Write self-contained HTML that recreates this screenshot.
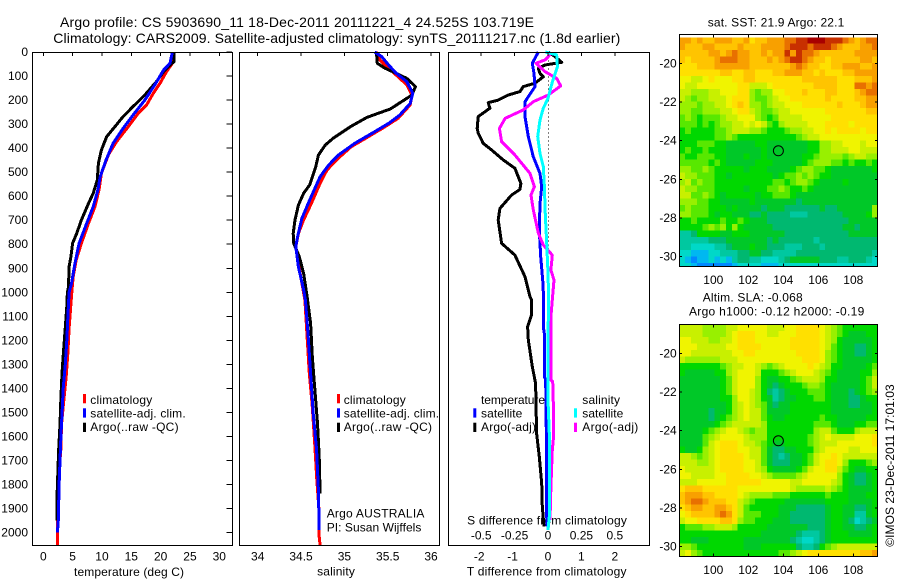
<!DOCTYPE html>
<html lang="en">
<head>
<meta charset="utf-8">
<title>Argo profile 5903690_11</title>
<style>
html,body{margin:0;padding:0;background:#fff;}
svg{display:block;}
text{font-family:"Liberation Sans",sans-serif;font-size:12px;fill:#000;dominant-baseline:central;}
text.big{font-size:14px;}
</style>
</head>
<body>
<svg id="chart" xmlns="http://www.w3.org/2000/svg" width="900" height="580" viewBox="0 0 900 580">
<rect x="0" y="0" width="900" height="580" fill="#fff"/>
<text class="big" x="60" y="22" textLength="474" lengthAdjust="spacing">Argo profile: CS 5903690_11 18-Dec-2011 20111221_4 24.525S 103.719E</text>
<text class="big" x="53.3" y="38" textLength="567" lengthAdjust="spacing">Climatology: CARS2009. Satellite-adjusted climatology: synTS_20111217.nc (1.8d earlier)</text>
<text x="707.7" y="22.3" textLength="136.6" lengthAdjust="spacing">sat. SST: 21.9 Argo: 22.1</text>
<text x="702.7" y="297.7" textLength="100" lengthAdjust="spacing">Altim. SLA: -0.068</text>
<text x="689" y="311.7" textLength="175.3" lengthAdjust="spacing">Argo h1000: -0.12 h2000: -0.19</text>
<text x="129" y="572" text-anchor="middle" textLength="110" lengthAdjust="spacing">temperature (deg C)</text>
<text x="336" y="571.7" text-anchor="middle" textLength="37.7" lengthAdjust="spacing">salinity</text>
<text x="546.7" y="571.7" text-anchor="middle" textLength="159.7" lengthAdjust="spacing">T difference from climatology</text>
<text x="547" y="520.7" text-anchor="middle" textLength="159.7" lengthAdjust="spacing">S difference from climatology</text>

<g>
<rect x="83" y="394" width="3" height="9.3" fill="#ff0000"/>
<rect x="83" y="408.3" width="3" height="9.3" fill="#0000ff"/>
<rect x="83" y="422.7" width="3" height="9.3" fill="#000"/>
<text x="90.3" y="400" textLength="62" lengthAdjust="spacing">climatology</text>
<text x="90.3" y="413.3" textLength="95.4" lengthAdjust="spacing">satellite-adj. clim.</text>
<text x="90.3" y="427" textLength="88.3" lengthAdjust="spacing">Argo(..raw -QC)</text>
</g>
<g>
<rect x="337" y="394" width="3" height="9.3" fill="#ff0000"/>
<rect x="337" y="408.3" width="3" height="9.3" fill="#0000ff"/>
<rect x="337" y="422.7" width="3" height="9.3" fill="#000"/>
<text x="343.7" y="400" textLength="62" lengthAdjust="spacing">climatology</text>
<text x="343.7" y="413.3" textLength="95.4" lengthAdjust="spacing">satellite-adj. clim.</text>
<text x="343.7" y="427" textLength="88.3" lengthAdjust="spacing">Argo(..raw -QC)</text>
</g>
<text x="326.7" y="513.3" textLength="97.7" lengthAdjust="spacing">Argo AUSTRALIA</text>
<text x="326.7" y="527.7" textLength="94.7" lengthAdjust="spacing">PI: Susan Wijffels</text>
<g>
<text x="481" y="400" textLength="64" lengthAdjust="spacing">temperature</text>
<text x="481" y="413.3" textLength="41.3" lengthAdjust="spacing">satellite</text>
<text x="481" y="427" textLength="55" lengthAdjust="spacing">Argo(-adj)</text>
<text x="582.3" y="400" textLength="37.7" lengthAdjust="spacing">salinity</text>
<text x="582.3" y="413.3" textLength="41" lengthAdjust="spacing">satellite</text>
<text x="582.3" y="427" textLength="56" lengthAdjust="spacing">Argo(-adj)</text>
<rect x="473.3" y="408.3" width="3" height="9.3" fill="#0000ff"/>
<rect x="473.3" y="422.7" width="3" height="9.3" fill="#000"/>
<rect x="574" y="408.3" width="3" height="9.3" fill="#00ffff"/>
<rect x="574" y="422.7" width="3" height="9.3" fill="#ff00ff"/>
</g>
<text transform="translate(890,465.5) rotate(-90)" text-anchor="middle" textLength="162.4" lengthAdjust="spacing">©IMOS 23-Dec-2011 17:01:03</text>
<defs>
<clipPath id="clip-sst"><rect x="679.3" y="34.3" width="198" height="232.4"/></clipPath>
<clipPath id="clip-sla"><rect x="679.3" y="324.3" width="198" height="232.4"/></clipPath>
</defs>
</svg>
<script>
// ---------- profile data (depth in dbar, values in physical units) ----------
const depthTickLabels = [0,100,200,300,400,500,600,700,800,900,1000,1100,1200,1300,1400,1500,1600,1700,1800,1900,2000];
const tempTickLabels = [0,5,10,15,20,25,30];
const salTickLabels = [34,34.5,35,35.5,36];
const tDiffTickLabels = [-2,-1,0,1,2];
const sDiffTickLabels = [-0.5,-0.25,0,0.25,0.5];
const lonTickLabels = [100,102,104,106,108];
const latTickLabels = [-20,-22,-24,-26,-28,-30];

const tempClimDepth = [0,47,82,130,172,220,255,310,373,428,505,574,644,713,796,865,935,990,1050,1150,1250,1350,1450,1550,1650,1750,1850,1950,2053];
const tempClimValue = [22.2,22.0,21.0,19.9,18.75,17.6,16.2,14.5,12.5,11.1,9.9,9.5,8.8,7.7,6.5,5.6,5.1,4.9,4.7,4.4,4.2,3.9,3.5,3.1,3.0,2.7,2.6,2.4,2.4];
const tempSatDepth = [0,47,75,137,200,262,318,380,449,519,574,644,713,796,879,963,1000,1100,1200,1300,1400,1500,1600,1700,1800,1950,2000];
const tempSatValue = [22.0,21.6,20.5,19.0,17.3,15.3,13.6,11.9,10.7,9.7,9.3,8.5,7.4,6.1,5.4,4.8,4.4,4.2,4.0,3.75,3.4,3.2,3.0,2.85,2.7,2.55,2.4];
const tempArgoDepth = [0,40,54,82,123,179,227,269,311,352,408,463,533,588,630,699,755,796,852,893,977,1000,1060,1130,1230,1330,1440,1550,1660,1770,1880,1950];
const tempArgoValue = [22.3,22.3,21.6,20.5,19.3,17.3,15.3,13.6,12.2,10.8,9.9,9.4,9.2,8.5,7.7,6.5,5.7,5.0,4.7,4.4,4.3,4.1,4.0,3.8,3.5,3.2,3.0,2.85,2.6,2.45,2.3,2.3];

const salClimDepth = [0,33,61,103,137,179,220,276,311,352,394,442,491,547,630,699,755,810,880,963,1032,1337,1476,1642,1767,1920,2017,2053];
const salClimValue = [35.37,35.41,35.49,35.62,35.72,35.78,35.76,35.62,35.47,35.28,35.08,34.93,34.80,34.72,34.62,34.53,34.47,34.44,34.47,34.51,34.545,34.595,34.63,34.66,34.68,34.71,34.71,34.72];
const salSatDepth = [0,19,54,89,123,172,214,262,297,338,380,429,470,519,616,692,768,810,894,990,1032,1171,1337,1504,1656,1823,1989];
const salSatValue = [35.35,35.43,35.51,35.60,35.72,35.79,35.76,35.64,35.51,35.32,35.12,34.93,34.82,34.72,34.60,34.51,34.46,34.44,34.47,34.53,34.55,34.58,34.61,34.64,34.68,34.70,34.71];
const salArgoDepth = [0,47,68,89,110,144,179,207,237,255,272,311,359,387,429,477,553,588,637,699,755,796,852,921,1018,1129,1268,1407,1545,1684,1837];
const salArgoValue = [35.37,35.38,35.47,35.60,35.72,35.82,35.78,35.66,35.53,35.39,35.26,35.07,34.87,34.78,34.70,34.67,34.60,34.53,34.47,34.43,34.41,34.415,34.48,34.53,34.57,34.61,34.63,34.66,34.69,34.71,34.72];

const tDiffSatDepth = [0,47,89,144,207,269,352,436,505,560,630,741,852,949,1032,1143,1171,1351,1365,1545,1587,1934,1975];
const tDiffSatValue = [-0.29,-0.47,-0.42,-0.39,-0.69,-0.69,-0.59,-0.44,-0.24,-0.19,-0.24,-0.26,-0.22,-0.16,-0.13,-0.14,-0.11,-0.11,-0.07,-0.06,-0.04,-0.04,-0.02];
const tDiffArgoDepth = [0,19,43,54,68,89,103,130,144,165,179,200,211,234,269,318,338,380,408,449,484,547,572,595,651,699,796,845,935,1018,1032,1094,1143,1198,1309,1379,1587,1684,1795,1892,1975];
const tDiffArgoValue = [0.01,0.21,0.41,-0.09,-0.29,-0.24,-0.14,-0.39,-0.74,-0.84,-1.19,-1.49,-1.79,-1.74,-2.09,-2.12,-2.09,-1.94,-1.69,-1.34,-0.99,-0.81,-0.84,-1.09,-1.44,-1.49,-1.39,-0.99,-0.69,-0.54,-0.49,-0.49,-0.61,-0.59,-0.47,-0.37,-0.34,-0.26,-0.19,-0.17,-0.12];
const sDiffSatDepth = [0,12,61,130,193,234,283,352,422,477,560,657,796,921,1032,1171,1448,1587,1920,1989];
const sDiffSatValue = [-0.02,0.065,0.07,0.03,0,-0.035,-0.06,-0.077,-0.06,-0.035,-0.027,-0.022,-0.01,0,0.005,0,0,0.01,0.012,0];
const sDiffArgoDepth = [8,33,47,82,110,141,179,207,241,276,318,373,429,505,560,595,657,755,803,845,907,949,1032,1101,1365,1372,1462,1601,1656,1809,1948];
const sDiffArgoValue = [0.022,-0.022,-0.09,-0.022,0.065,0.095,0.002,-0.11,-0.185,-0.32,-0.364,-0.347,-0.247,-0.135,-0.102,-0.127,-0.11,-0.072,-0.035,0.032,0.022,0.045,0.032,0.022,0.022,0.035,0.04,0.042,0.032,0.022,0.015];

// ---------- map grids: colour-level values read per 1/3-degree cell ----------
const sstGrid = [
[13,13,12,13,12,12,13,13,13,12,12,13,11,12,12,13,13, 13,14,14,15,15,16,16,16,15,15,15,14,13,12,13,14,14],
[13,12,12,12,13,13,12,12,12,12,13,12,12,12,13,13,13, 13,14,15,15,15,14,15,15,15,14,13,12,12,12,13,13,14],
[12,12,12,12,12,13,13,12,13,14,13,13,12,12,13,12,13, 13,15,13,15,14,14,13,12,12,12,12,12,12,13,13,13,13],
[12,11,12,12,12,12,13,14,14,14,13,13,12,12,12,13,12, 13,14,15,15,14,13,12,12,11,12,12,12,12,12,13,13,12],
[11,11,11,12,12,12,13,13,13,13,13,13,12,12,12,12,12, 12,12,13,14,13,12,12,11,11,12,12,13,13,13,12,12,13],
[11,11,11,11,11,11,11,12,12,11,11,12,12,11,11,11,12, 12,13,13,13,12,12,11,12,11,11,11,12,12,13,13,13,13],
[10,10,9,9,10,11,10,10,10,11,11,12,12,11,11,11,11, 11,11,11,11,12,12,12,12,12,12,11,11,11,12,12,12,13],
[10,9,9,10,10,10,10,10,10,10,11,11,9,9,9,10,11, 11,11,11,11,11,11,12,12,12,12,11,11,11,14,14,13,14],
[9,9,8,8,8,9,9,10,10,10,11,11,8,7,8,8,10, 10,11,11,11,12,11,11,11,12,12,11,11,11,12,13,14,14],
[9,8,7,8,8,9,9,9,10,11,11,11,8,7,7,8,9, 10,10,11,11,11,11,11,11,12,11,11,11,11,12,12,13,13],
[8,8,8,7,8,8,9,9,10,11,12,11,8,8,7,8,9, 9,10,10,10,11,11,11,11,11,11,12,11,11,11,12,13,13],
[8,8,7,7,8,8,8,9,9,10,11,11,9,8,7,7,8, 9,9,10,10,10,10,10,10,11,11,11,11,11,11,11,12,12],
[7,8,7,6,7,7,7,8,9,9,10,10,10,8,7,6,7, 9,9,9,9,10,10,10,10,10,11,11,11,11,11,11,11,11],
[7,7,7,6,7,6,7,8,8,9,9,10,9,10,9,7,6, 8,9,9,9,9,10,10,10,11,11,11,11,10,11,11,11,11],
[6,7,6,6,6,6,7,7,8,9,9,9,8,8,7,6,6, 6,7,8,8,9,9,10,10,11,10,11,11,11,11,10,11,11],
[6,6,6,6,6,6,7,7,8,7,6,6,6,6,6,6,6, 6,6,6,7,8,9,9,10,10,10,10,10,10,10,10,10,10],
[6,6,6,7,7,7,6,6,5,5,5,5,5,6,6,5,5, 5,5,5,5,5,6,6,8,8,9,9,10,10,10,9,10,10],
[6,7,6,6,7,6,6,6,5,5,5,5,5,5,6,5,5, 5,5,5,5,5,6,6,8,8,9,9,9,10,10,9,9,9],
[7,6,6,7,7,7,6,6,5,5,5,6,5,5,6,5,5, 5,5,5,5,6,6,7,8,8,8,8,7,8,9,9,8,8],
[7,7,7,7,7,6,7,6,5,5,5,5,5,6,6,6,5, 5,5,5,5,6,7,8,8,8,7,7,6,7,6,6,7,6],
[8,8,7,7,8,7,6,6,6,6,6,5,6,6,6,5,5, 5,5,6,7,8,8,7,7,6,5,5,5,5,5,5,5,6],
[9,8,8,7,7,7,6,6,5,6,6,6,6,6,6,6,5, 6,7,7,8,7,8,7,6,6,5,5,5,5,5,5,5,5],
[8,9,7,8,7,7,6,6,6,6,6,6,6,6,6,6,7, 7,6,7,8,8,7,6,5,5,5,5,6,5,5,5,5,5],
[9,8,8,7,7,7,6,6,6,6,6,5,6,6,6,7,7, 8,7,6,6,7,6,5,5,5,5,5,5,5,5,5,5,5],
[9,9,7,7,8,7,6,5,6,6,6,6,6,5,6,6,7, 7,7,6,5,5,5,5,5,5,5,5,5,5,5,5,5,5],
[8,8,8,7,7,6,6,5,5,5,5,5,6,5,5,5,5, 5,5,5,4,5,5,5,5,5,5,5,5,5,5,5,5,5],
[7,8,7,7,7,6,6,6,5,6,5,5,5,5,4,5,5, 5,4,4,4,4,4,4,5,4,4,5,5,5,5,5,5,8],
[8,8,7,7,7,6,5,6,6,5,5,5,4,4,5,4,4, 4,4,3,3,3,4,4,4,4,4,4,5,5,5,5,6,8],
[6,6,7,6,6,6,6,7,6,6,7,6,5,5,5,4,4, 4,4,4,4,4,4,4,4,4,4,4,4,5,5,5,5,5],
[6,6,6,6,7,8,7,8,6,8,6,5,5,5,5,5,4, 4,4,4,4,4,4,4,4,4,4,4,5,5,4,5,5,5],
[3,3,4,6,6,6,6,5,5,6,6,6,5,5,5,5,5, 5,4,4,4,4,4,4,4,4,4,4,4,5,5,5,5,5],
[3,3,3,3,3,4,4,4,5,5,5,5,5,5,5,4,5, 4,4,4,4,4,4,3,4,4,4,4,4,4,4,4,4,4],
[3,3,2,2,2,2,3,3,4,5,5,5,6,5,5,4,4, 4,3,3,3,4,4,4,3,4,4,4,4,4,4,4,4,4],
[2,2,1,1,1,2,2,3,3,3,4,4,5,5,4,4,3, 3,3,3,4,4,4,4,4,4,4,4,4,4,4,4,4,3],
[2,1,0,1,1,2,1,2,1,3,4,4,3,3,2,2,2, 3,4,5,5,5,5,5,4,4,4,3,3,4,4,4,3,2],
[2,2,1,0,0,0,0,0,0,1,2,2,2,2,1,1,1, 2,2,2,2,2,2,2,2,2,2,2,2,2,2,2,2,2]
];
const slaGrid = [
[9,9,9,9,8,8,8,8,9,9,10,10,10,10,10,9,9, 9,10,10,11,11,11,11,10,9,8,7,6,6,6,6,6,6],
[9,9,9,9,8,8,8,8,9,10,11,11,11,10,10,9,9, 10,10,10,11,11,11,11,10,9,8,7,6,5,5,5,6,6],
[10,10,9,9,9,8,8,9,9,10,11,11,11,10,10,10,10, 10,10,11,11,11,11,11,10,9,8,6,5,5,5,5,5,6],
[10,10,10,9,9,9,9,9,10,10,11,11,11,11,10,10,10, 10,10,11,11,11,11,11,10,9,7,6,5,5,4,4,5,6],
[10,10,9,9,9,9,9,9,9,10,10,11,11,10,10,10,10, 10,10,10,11,11,11,11,10,8,7,6,5,5,4,4,5,6],
[9,8,8,8,8,8,8,9,9,9,10,10,10,10,10,10,10, 10,10,10,10,11,11,11,10,8,7,6,5,5,5,5,5,6],
[6,6,6,6,6,6,6,7,8,9,9,10,10,9,8,7,8, 9,10,10,10,10,11,10,9,8,6,6,5,5,5,5,6,7],
[6,5,5,5,5,5,6,6,8,9,10,10,10,9,6,6,6, 7,8,9,10,10,10,9,8,7,6,5,5,5,5,6,6,8],
[5,5,5,5,5,5,5,6,7,9,10,10,10,8,6,5,5, 6,6,7,8,9,9,9,8,6,6,5,5,5,5,6,7,9],
[5,5,5,5,5,5,5,6,7,9,10,10,10,8,6,5,4, 5,6,6,6,7,8,8,7,6,5,5,5,5,5,6,7,9],
[5,5,5,5,5,5,5,6,7,9,10,10,9,8,6,4,3, 4,5,6,6,6,7,7,7,6,5,5,5,4,5,6,7,8],
[5,5,5,5,5,5,5,6,6,8,10,10,9,8,6,5,3, 4,5,5,6,6,6,7,7,6,5,5,5,4,4,5,6,6],
[5,5,5,5,5,5,5,5,6,8,9,10,9,8,7,5,4, 5,5,6,6,6,6,6,6,6,5,5,5,4,4,5,5,6],
[5,5,5,5,5,4,5,5,6,8,9,10,9,9,7,5,5, 5,5,6,6,6,6,6,6,6,5,5,5,5,5,5,5,6],
[5,5,5,5,5,4,5,6,7,8,9,10,9,9,7,6,5, 5,6,6,6,6,6,6,7,6,6,5,5,5,5,5,6,6],
[5,5,5,5,5,5,6,7,8,9,9,9,9,9,8,6,6, 6,6,6,6,6,6,7,7,7,6,5,5,5,6,6,7,7],
[5,5,5,5,6,7,8,9,10,10,9,8,7,8,8,6,6, 6,6,6,6,6,6,8,9,9,7,6,6,6,8,9,9,9],
[5,5,5,5,7,8,9,10,10,10,10,9,8,8,8,6,6, 6,6,6,6,6,7,8,9,10,9,9,9,9,10,10,10,11],
[5,5,5,5,7,9,10,11,11,11,10,9,9,8,7,6,5, 5,6,6,6,6,7,8,9,9,9,10,10,10,10,10,10,11],
[6,5,5,6,8,9,10,11,11,11,10,10,9,9,7,5,4, 4,5,5,6,6,6,8,9,10,10,10,10,9,9,10,10,10],
[9,9,8,7,8,9,10,11,11,11,11,10,9,9,7,5,4, 3,4,5,5,6,7,9,10,10,11,10,9,9,9,9,9,9],
[9,9,9,8,8,9,10,11,11,11,11,10,10,9,7,5,4, 4,4,5,5,6,7,9,10,11,11,10,8,6,6,6,7,8],
[10,9,9,9,9,9,10,11,11,11,11,10,10,9,8,6,5, 5,5,5,6,7,9,10,10,11,11,9,7,6,5,5,6,6],
[10,10,9,9,9,9,10,10,11,11,11,11,10,10,9,8,7, 7,7,7,8,9,10,10,10,10,10,8,6,5,4,4,5,6],
[9,9,9,10,10,10,10,10,11,11,11,11,11,11,10,10,10, 10,10,9,9,10,10,10,10,10,9,8,6,5,4,4,5,6],
[11,12,12,12,11,11,11,11,11,11,10,10,10,10,10,10,10, 10,10,9,8,8,8,8,8,9,8,7,6,5,5,5,5,6],
[12,13,13,13,12,12,11,11,11,11,10,9,8,8,8,8,7, 7,7,6,6,6,6,6,6,7,6,6,6,5,5,5,6,6],
[12,13,14,14,13,12,12,12,11,11,9,8,7,6,6,6,6, 6,5,5,5,5,5,5,5,6,6,6,6,5,5,5,5,6],
[11,12,13,13,12,12,13,13,12,11,9,7,6,6,6,6,6, 5,5,5,4,4,4,4,4,5,6,6,5,5,4,4,5,6],
[10,11,12,12,12,12,13,14,13,11,9,7,7,7,6,6,6, 5,5,4,4,4,4,4,4,5,6,6,5,5,3,3,5,6],
[9,10,10,11,11,11,11,12,12,11,8,7,7,6,6,6,5, 5,5,4,4,4,4,4,4,5,6,6,5,4,2,3,4,5],
[6,7,7,7,8,8,9,9,9,8,6,6,6,6,6,5,5, 5,5,5,5,5,4,4,4,5,6,6,5,5,4,4,5,6],
[6,6,6,6,6,6,6,6,6,6,6,6,6,6,5,5,5, 5,5,5,4,3,3,3,4,5,6,6,6,5,5,5,5,6],
[6,6,5,5,5,6,6,6,6,6,6,5,5,5,5,5,5, 5,5,4,3,2,2,3,4,5,6,6,6,6,6,6,6,6],
[8,8,7,6,6,6,6,6,6,6,6,5,5,5,6,6,6, 6,6,6,4,3,3,4,6,7,8,9,9,9,9,9,9,9],
[9,10,8,7,6,6,6,6,6,6,6,6,6,6,6,6,6, 7,7,8,9,10,11,11,11,11,11,11,11,11,11,12,12,13]
];

// ---------- scales ----------
const DEPTH_TOP = 52, DEPTH_PX = 0.2403;
function depthY(d){ return DEPTH_TOP + d * DEPTH_PX; }
function tempX(v){ return 43.3 + v * 5.867; }
function salX(v){ return 257.7 + (v - 34) * 86.67; }
function tDiffX(v){ return 548 + v * 33.4; }
function sDiffX(v){ return 548 + v * 133.6; }
function mapLonX(lon){ return 713.3 + (lon - 100) * 17.5; }
function sstLatY(lat){ return 63.3 + (-20 - lat) * 19.33; }
function slaLatY(lat){ return 353.3 + (-20 - lat) * 19.33; }
function levelColor(v){
  const stops = ['#0088ff','#00b8f0','#00d8c8','#00c8a0','#00b870','#00c828','#00d800','#58e800','#98f000','#c8f000','#f0f400','#ffe000','#ffc400','#f8a000','#e87000','#c83000','#a80000'];
  return stops[Math.max(0, Math.min(stops.length - 1, Math.round(v)))];
}

// ---------- drawing helpers ----------
const svg = document.getElementById('chart');
const NS = 'http://www.w3.org/2000/svg';
function mk(tag, attrs, parent){
  const e = document.createElementNS(NS, tag);
  for (const k in attrs) e.setAttribute(k, attrs[k]);
  (parent || svg).appendChild(e);
  return e;
}
function profileLine(depths, values, xFn, color, name){
  const pts = depths.map((d, i) => xFn(values[i]).toFixed(1) + ',' + depthY(d).toFixed(1)).join(' ');
  const line = mk('polyline', {points: pts, fill: 'none', stroke: color, 'stroke-width': 3, 'stroke-linejoin': 'round', 'shape-rendering': 'crispEdges'});
  
  
  return line;
}
function segment(x1, y1, x2, y2, name){
  const s = mk('line', {x1, y1, x2, y2, stroke: '#000', 'stroke-width': 1, 'shape-rendering': 'crispEdges'});
  
  
  return s;
}
function label(x, y, str, anchor, name){
  const t = mk('text', {x, y, 'text-anchor': anchor});
  t.textContent = str;
  
  
  return t;
}
function heatmap(grid, lonStart, latStart, latFn, clipId, name){
  const g = mk('g', {'clip-path': 'url(#' + clipId + ')'});
  
  
  const step = 1 / 3;
  grid.forEach((row, r) => row.forEach((v, k) => {
    const x0 = mapLonX(lonStart + k * step), x1 = mapLonX(lonStart + (k + 1) * step);
    const y0 = latFn(latStart - r * step), y1 = latFn(latStart - (r + 1) * step);
    const c = mk('rect', {x: x0.toFixed(2), y: y0.toFixed(2), width: (x1 - x0 + 0.3).toFixed(2), height: (y1 - y0 + 0.3).toFixed(2), fill: levelColor(v), 'shape-rendering': 'crispEdges'}, g);
    
    
  }));
}
function frame(x0, y0, x1, y1, name){
  const f = mk('rect', {x: x0, y: y0, width: x1 - x0, height: y1 - y0, fill: 'none', stroke: '#000', 'stroke-width': 1, 'shape-rendering': 'crispEdges'});
  
  
}

// ---------- profile panels ----------
const PANEL_TOP = 52.5, PANEL_BOTTOM = 545.5;
const dotted = mk('line', {x1: 548.5, y1: PANEL_TOP, x2: 548.5, y2: depthY(2000), stroke: '#000', 'stroke-width': 1, 'stroke-dasharray': '1 3', 'shape-rendering': 'crispEdges'});



profileLine(tempClimDepth, tempClimValue, tempX, '#ff0000', 'temperature-climatology-line');
profileLine(tempArgoDepth, tempArgoValue, tempX, '#000000', 'temperature-argo-line');
profileLine(tempSatDepth, tempSatValue, tempX, '#0000ff', 'temperature-satellite-line');
profileLine(salClimDepth, salClimValue, salX, '#ff0000', 'salinity-climatology-line');
profileLine(salArgoDepth, salArgoValue, salX, '#000000', 'salinity-argo-line');
profileLine(salSatDepth, salSatValue, salX, '#0000ff', 'salinity-satellite-line');
profileLine(tDiffArgoDepth, tDiffArgoValue, tDiffX, '#000000', 't-difference-argo-line');
profileLine(tDiffSatDepth, tDiffSatValue, tDiffX, '#0000ff', 't-difference-satellite-line');
profileLine(sDiffArgoDepth, sDiffArgoValue, sDiffX, '#ff00ff', 's-difference-argo-line');
profileLine(sDiffSatDepth, sDiffSatValue, sDiffX, '#00ffff', 's-difference-satellite-line');

frame(32.5, PANEL_TOP, 232.5, PANEL_BOTTOM, 'temperature-panel-frame');
frame(239.5, PANEL_TOP, 439.5, PANEL_BOTTOM, 'salinity-panel-frame');
frame(448.5, PANEL_TOP, 649.5, PANEL_BOTTOM, 'difference-panel-frame');

depthTickLabels.forEach(d => {
  label(28, depthY(d), String(d), 'end', 'depth-tick-label');
  segment(226.5, depthY(d), 232, depthY(d), 'depth-tick');
});
tempTickLabels.forEach(v => {
  segment(tempX(v), PANEL_TOP, tempX(v), PANEL_TOP + 3.5, 'temperature-tick');
  label(tempX(v), 556.7, String(v), 'middle', 'temperature-tick-label');
});
salTickLabels.forEach(v => {
  segment(salX(v), PANEL_TOP, salX(v), PANEL_TOP + 3.5, 'salinity-tick');
  label(salX(v), 556.7, String(v), 'middle', 'salinity-tick-label');
});
tDiffTickLabels.forEach(v => {
  segment(tDiffX(v), PANEL_TOP, tDiffX(v), PANEL_TOP + 3.5, 't-difference-tick');
  label(tDiffX(v) - (v < 0 ? 2 : 0), 556.7, String(v), 'middle', 't-difference-tick-label');
});
sDiffTickLabels.forEach(v => {
  label(sDiffX(v), 535.7, String(v), 'middle', 's-difference-tick-label');
});

// ---------- maps ----------
heatmap(sstGrid, 98.057, -18.655, sstLatY, 'clip-sst', 'sst-heatmap');
heatmap(slaGrid, 98.057, -18.5, slaLatY, 'clip-sla', 'sla-heatmap');
frame(679.5, 34.5, 877.5, 266.5, 'sst-map-frame');
frame(679.5, 324.5, 877.5, 556.5, 'sla-map-frame');

function mapAxes(latFn, top, bottom, tickName){
  latTickLabels.forEach(lat => {
    const y = latFn(lat);
    segment(679.5, y, 682, y, tickName + '-lat-tick');
    segment(875, y, 877.5, y, tickName + '-lat-tick');
    label(676.7, y, String(lat), 'end', tickName + '-lat-label');
  });
  lonTickLabels.forEach(lon => {
    const x = mapLonX(lon);
    segment(x, top, x, top + 3, tickName + '-lon-tick');
    segment(x, bottom - 3, x, bottom, tickName + '-lon-tick');
    label(x, bottom + 13.5, String(lon), 'middle', tickName + '-lon-label');
  });
}
mapAxes(sstLatY, 34.5, 266.5, 'sst');
mapAxes(slaLatY, 324.5, 556.5, 'sla');

const profileLon = [103.719];
const profileLat = [-24.525];
[sstLatY, slaLatY].forEach(latFn => {
  const marker = mk('circle', {cx: mapLonX(profileLon[0]), cy: latFn(profileLat[0]), r: 5, fill: 'none', stroke: '#000', 'stroke-width': 1});
  
  
});
</script>
</body>
</html>
